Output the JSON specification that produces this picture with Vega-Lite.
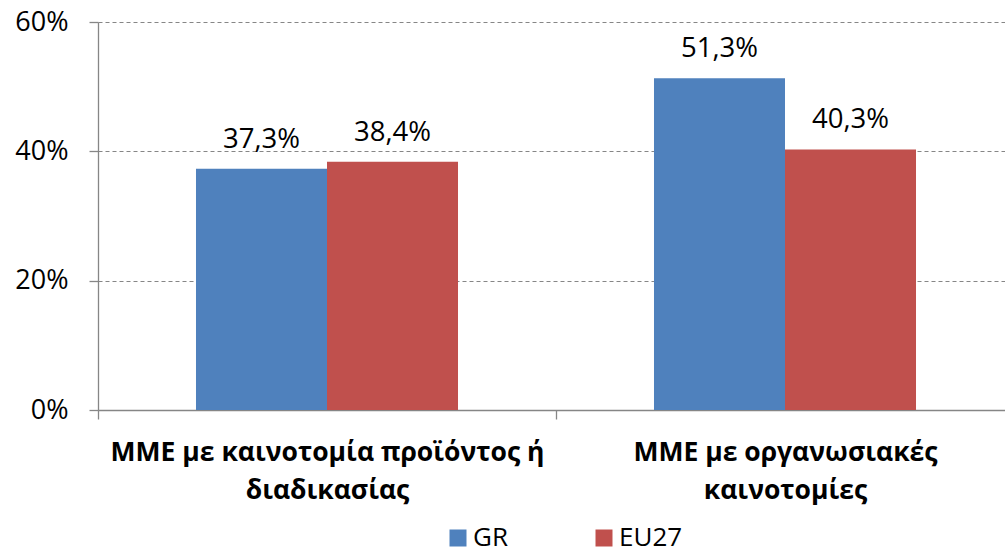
{
  "$schema": "https://vega.github.io/schema/vega-lite/v6.json",
  "width": 916,
  "height": 388,
  "autosize": {"type": "none"},
  "padding": {"left": 98, "top": 22, "right": 0, "bottom": 143},
  "config": {
    "locale": {"number": {"decimal": ",", "thousands": ".", "grouping": [3], "currency": ["", " €"]}},
    "view": {"stroke": null},
    "font": "Open Sans",
    "axis": {"labelColor": "black", "domainColor": "#868686", "tickColor": "#868686", "domainWidth": 1.3, "tickWidth": 1.3, "labelFont": "Open Sans"},
    "legend": {"labelFont": "Open Sans"}
  },
  "data": {
    "values": [
      {"cat": "ΜΜΕ με καινοτομία προϊόντος ή|διαδικασίας", "series": "GR", "value": 0.373},
      {"cat": "ΜΜΕ με καινοτομία προϊόντος ή|διαδικασίας", "series": "EU27", "value": 0.384},
      {"cat": "ΜΜΕ με οργανωσιακές|καινοτομίες", "series": "GR", "value": 0.513},
      {"cat": "ΜΜΕ με οργανωσιακές|καινοτομίες", "series": "EU27", "value": 0.403}
    ]
  },
  "encoding": {
    "x": {
      "field": "cat", "type": "nominal", "sort": null,
      "scale": {"paddingInner": 0, "paddingOuter": 0},
      "axis": {
        "title": null, "labelAngle": 0, "labelExpr": "split(datum.label, '|')",
        "labelFontSize": 26.5, "labelFontWeight": "bold", "labelLineHeight": 38,
        "labelPadding": 20, "tickBand": "extent", "tickSize": 9, "labelLimit": 600, "grid": false
      }
    },
    "xOffset": {"field": "series", "type": "nominal", "sort": ["GR", "EU27"], "scale": {"paddingOuter": 0.748, "paddingInner": 0}},
    "y": {
      "field": "value", "type": "quantitative",
      "scale": {"domain": [0, 0.6]},
      "axis": {
        "title": null, "format": ".0%", "values": [0, 0.2, 0.4, 0.6],
        "grid": true, "gridDash": [4, 3], "gridColor": "#868686", "gridWidth": 1.2,
        "labelFontSize": 27, "tickSize": 9, "labelPadding": 21
      }
    },
    "color": {
      "field": "series", "type": "nominal",
      "scale": {"domain": ["GR", "EU27"], "range": ["#4F81BD", "#C0504D"]},
      "legend": {
        "orient": "none", "legendX": 347, "legendY": 503, "padding": 0,
        "direction": "horizontal", "title": null,
        "symbolType": "square", "symbolSize": 289, "symbolStrokeWidth": 0,
        "labelFontSize": 26, "labelOffset": 2, "columnPadding": 83, "labelColor": "black"
      }
    }
  },
  "layer": [
    {"mark": {"type": "bar"}},
    {
      "mark": {"type": "text", "dy": -21, "baseline": "alphabetic", "fontSize": 27.5, "font": "Open Sans"},
      "encoding": {"text": {"field": "value", "type": "quantitative", "format": ".1%"}, "color": {"value": "black"}}
    }
  ]
}
